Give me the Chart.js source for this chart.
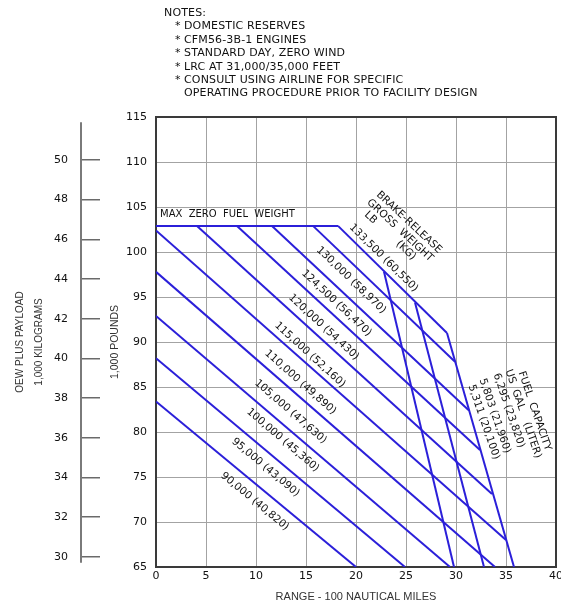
<!DOCTYPE html>
<html>
<head>
<meta charset="utf-8">
<title>Payload / range</title>
<script src="https://cdn.jsdelivr.net/npm/chart.js@4.4.1/dist/chart.umd.min.js"></script>
<style>
  html, body { margin: 0; padding: 0; background: #fff; }
  #wrap { position: relative; width: 561px; height: 606px; }
  #c { position: absolute; left: 0; top: 0; }
  #notes { position: absolute; left: 164px; top: 6px; font: 11px "DejaVu Sans", sans-serif; line-height: 13.4px; color: #111; white-space: pre; letter-spacing: 0.15px; }
  #notes .n { padding-left: 20px; position: relative; }
  #notes .n b { position: absolute; left: 11px; font-weight: normal; }
</style>
</head>
<body>
<div id="wrap">
  <canvas id="c" width="561" height="606"></canvas>
  <div id="notes"></div>
</div>
<script>
// ---- data ----
const NOTES_TITLE = 'NOTES:';
const NOTES = ['DOMESTIC RESERVES', 'CFM56-3B-1 ENGINES', 'STANDARD DAY, ZERO WIND',
  'LRC AT 31,000/35,000 FEET', 'CONSULT USING AIRLINE FOR SPECIFIC', '\u0000OPERATING PROCEDURE PRIOR TO FACILITY DESIGN'];

const X_TICKS = [0, 5, 10, 15, 20, 25, 30, 35, 40];
const Y_TICKS = [65, 70, 75, 80, 85, 90, 95, 100, 105, 110, 115];
const KG_TICKS = [30, 32, 34, 36, 38, 40, 42, 44, 46, 48, 50];
const LB_PER_KG = 2.20462;

const MZFW_KLB = 102.9;       // max zero fuel weight, 1,000 lb
const MZFW_TO_RANGE = 18.2;

// brake-release gross weight lines (range in 100 nm, weight in 1,000 lb)
const BRGW_LB = [90000, 95000, 100000, 105000, 110000, 115000, 120000, 124500, 130000, 133500];
const BRGW_KG = [40820, 43090, 45360, 47630, 49890, 52160, 54430, 56470, 58970, 60550];
const BRGW_FROM_RANGE = [0, 0, 0, 0, 0, 4.1, 8.1, 11.6, 15.7, 18.2];
const BRGW_FROM_WT = [83.4, 88.2, 92.9, 97.8, 102.4, 102.9, 102.9, 102.9, 102.9, 102.9];
const BRGW_TO_RANGE = [20.0, 24.9, 29.4, 33.9, 35.0, 33.6, 32.4, 31.3, 29.9, 29.1];
const BRGW_TO_WT = [65, 65, 65, 65, 68.0, 73.1, 78.0, 82.4, 87.8, 91.0];

// fuel capacity lines
const FUEL_GAL = [5311, 5803, 6295];
const FUEL_LITER = [20100, 21960, 23820];
const FUEL_FROM_RANGE = [22.8, 25.9, 29.1];
const FUEL_FROM_WT = [97.8, 94.4, 91.0];
const FUEL_TO_RANGE = [29.8, 32.8, 35.8];
const FUEL_TO_WT = [65, 65, 65];

// ---- layout / style ----
const BLUE = '#2b1fd9';
const GRID = '#a3a3a3';
const INK = '#111';
const CAD = '"DejaVu Sans", sans-serif';
const SANS = '"Liberation Sans Narrow", "Liberation Sans", sans-serif';
// where the rotated text sits, in data units (start of each label)
const BRGW_LABEL_AT = [[6.6, 75.3], [7.7, 79.1], [9.2, 82.4], [10.0, 85.6], [11.0, 88.9],
  [12.0, 92.0], [13.4, 95.1], [14.7, 97.8], [16.2, 100.4], [19.5, 102.9]];
const FUEL_LABEL_AT = [[31.5, 85.2], [32.6, 85.9], [34.0, 86.5]];
const FUEL_HEAD = [['US  GAL    (LITER)', 35.2, 86.9], ['FUEL  CAPACITY', 36.5, 86.7]];
const BRGW_HEAD = [['BRAKE-RELEASE', 25.3, 103.3], ['GROSS  WEIGHT', 24.4, 102.4], ['LB         (KG)', 23.4, 101.8]];

// notes block
const notesEl = document.getElementById('notes');
notesEl.innerHTML = '<div>' + NOTES_TITLE + '</div>' + NOTES.map(t =>
  t.startsWith('\u0000') ? '<div class="n">' + t.slice(1) + '</div>'
                         : '<div class="n"><b>*</b>' + t + '</div>').join('');

const seg = (x1, y1, x2, y2) => [{ x: x1, y: y1 }, { x: x2, y: y2 }];
const lineSet = data => ({ data, borderColor: BLUE, borderWidth: 2, pointRadius: 0, showLine: true, fill: false });

const datasets = [lineSet(seg(0, MZFW_KLB, MZFW_TO_RANGE, MZFW_KLB))];
BRGW_LB.forEach((_, i) => datasets.push(lineSet(seg(BRGW_FROM_RANGE[i], BRGW_FROM_WT[i], BRGW_TO_RANGE[i], BRGW_TO_WT[i]))));
FUEL_GAL.forEach((_, i) => datasets.push(lineSet(seg(FUEL_FROM_RANGE[i], FUEL_FROM_WT[i], FUEL_TO_RANGE[i], FUEL_TO_WT[i]))));

const fmt = n => n.toLocaleString('en-US');

function rotText(ctx, text, x, y, deg, align) {
  ctx.save();
  ctx.translate(x, y);
  ctx.rotate(deg * Math.PI / 180);
  ctx.textAlign = align || 'left';
  ctx.textBaseline = 'middle';
  ctx.fillText(text, 0, 0);
  ctx.restore();
}

const framePlugin = {
  id: 'frame',
  beforeDatasetsDraw(chart) {
    const { ctx, chartArea: a } = chart;
    ctx.save();
    ctx.strokeStyle = '#3a3a3a';
    ctx.lineWidth = 2;
    ctx.strokeRect(a.left, a.top, a.right - a.left, a.bottom - a.top);
    ctx.restore();
  },
  afterDraw(chart) {
    // kg scale spine sits on the outer end of its tick marks
    const kg = chart.scales.kg;
    const x = kg.right - kg.options.grid.tickLength;
    const { ctx } = chart;
    ctx.save();
    ctx.strokeStyle = '#7a7a7a';
    ctx.lineWidth = 2;
    ctx.beginPath();
    ctx.moveTo(x, kg.getPixelForValue(51.9));
    ctx.lineTo(x, kg.getPixelForValue(29.7));
    ctx.stroke();
    ctx.restore();
  }
};

const textPlugin = {
  id: 'chartText',
  afterDatasetsDraw(chart) {
    const { ctx, scales: { x, y } } = chart;
    const P = (r, w) => [x.getPixelForValue(r), y.getPixelForValue(w)];
    ctx.save();
    ctx.fillStyle = INK;
    ctx.font = '10px ' + CAD;

    let [mx, my] = P(0.4, 104.2);
    rotText(ctx, 'MAX  ZERO  FUEL  WEIGHT', mx, my, 0);

    ctx.font = '10.5px ' + CAD;
    BRGW_LB.forEach((lb, i) => {
      const [x1, y1] = P(BRGW_FROM_RANGE[i], BRGW_FROM_WT[i]);
      const [x2, y2] = P(BRGW_TO_RANGE[i], BRGW_TO_WT[i]);
      const deg = Math.atan2(y2 - y1, x2 - x1) * 180 / Math.PI;
      const [lx, ly] = P(BRGW_LABEL_AT[i][0], BRGW_LABEL_AT[i][1]);
      rotText(ctx, fmt(lb) + ' (' + fmt(BRGW_KG[i]) + ')', lx, ly, deg);
    });
    BRGW_HEAD.forEach(([t, r, w]) => { const [hx, hy] = P(r, w); rotText(ctx, t, hx, hy, 43, 'center'); });

    FUEL_GAL.forEach((g, i) => {
      const [lx, ly] = P(FUEL_LABEL_AT[i][0], FUEL_LABEL_AT[i][1]);
      rotText(ctx, fmt(g) + ' (' + fmt(FUEL_LITER[i]) + ')', lx, ly, 71);
    });
    FUEL_HEAD.forEach(([t, r, w]) => { const [hx, hy] = P(r, w); rotText(ctx, t, hx, hy, 71); });
    ctx.restore();
  }
};

const tickFont = { family: CAD, size: 11 };

new Chart(document.getElementById('c'), {
  type: 'scatter',
  data: { datasets },
  options: {
    responsive: false,
    animation: false,
    devicePixelRatio: 1,
    layout: { padding: { top: 117, right: 5, bottom: 0, left: 0 } },
    plugins: { legend: { display: false }, tooltip: { enabled: false } },
    scales: {
      x: {
        type: 'linear', min: 0, max: 40,
        afterBuildTicks: s => { s.ticks = X_TICKS.map(v => ({ value: v })); },
        afterFit: s => { s.paddingLeft = 0; s.paddingRight = 0; s.height = 39; },
        ticks: { font: tickFont, color: INK, padding: 3, maxRotation: 0 },
        grid: { color: GRID, lineWidth: 1, drawTicks: false },
        border: { display: false },
        title: { display: true, text: 'RANGE - 100 NAUTICAL MILES', color: '#333', font: { family: SANS, size: 11 }, padding: { top: 0, bottom: 2 } }
      },
      y: {
        type: 'linear', position: 'left', weight: 0, min: 65, max: 115,
        afterBuildTicks: s => { s.ticks = Y_TICKS.map(v => ({ value: v })); },
        afterFit: s => { s.width = 56; },
        ticks: { font: tickFont, color: INK, padding: 9 },
        grid: { color: GRID, lineWidth: 1, drawTicks: false },
        border: { display: false },
        title: { display: true, text: '1,000 POUNDS', color: '#333', font: { family: SANS, size: 10.5 }, padding: { top: 8.5, bottom: 0 } }
      },
      kg: {
        type: 'linear', position: 'left', weight: 1, min: 65 / LB_PER_KG, max: 115 / LB_PER_KG,
        afterBuildTicks: s => { s.ticks = KG_TICKS.map(v => ({ value: v })); },
        afterFit: s => { s.width = 100; },
        ticks: { font: tickFont, color: INK, padding: 13 },
        grid: { drawOnChartArea: false, drawTicks: true, tickLength: 19, color: '#6a6a6a', lineWidth: 1.5 },
        border: { display: false },
        title: { display: true, text: ['OEW PLUS PAYLOAD', '1,000 KILOGRAMS'], color: '#333', font: { family: SANS, size: 10, lineHeight: 1.9 }, padding: { top: 10.5, bottom: 0 } }
      }
    }
  },
  plugins: [framePlugin, textPlugin]
});
</script>
</body>
</html>
